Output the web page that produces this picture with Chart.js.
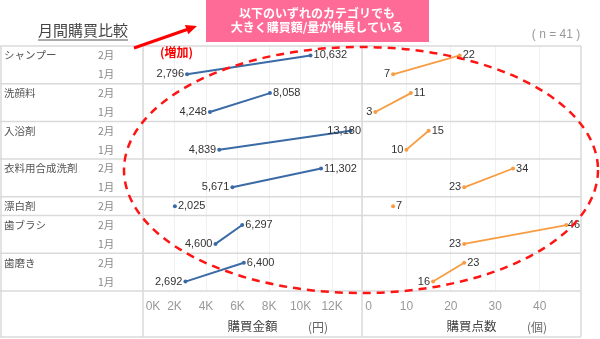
<!DOCTYPE html>
<html>
<head>
<meta charset="utf-8">
<script src="https://cdn.jsdelivr.net/npm/chart.js@4.4.0/dist/chart.umd.min.js"></script>
<style>
  html, body { margin: 0; padding: 0; background: #fff; overflow: hidden; }
  canvas { display: block; }
</style>
</head>
<body>
<canvas id="chart" width="600" height="339"></canvas>
<script>
const categories = ['シャンプー', '洗顔料', '入浴剤', '衣料用合成洗剤', '漂白剤', '歯ブラシ', '歯磨き'];
// null = no January row (漂白剤)
const amountJan = [2796, 4248, 4839, 5671, null, 4600, 2692];
const amountFeb = [10632, 8058, 13180, 11302, 2025, 6297, 6400];
const countJan = [7, 3, 10, 23, null, 23, 16];
const countFeb = [22, 11, 15, 34, 7, 46, 23];
const amountTicks = [0, 2000, 4000, 6000, 8000, 10000, 12000];
const countTicks = [0, 10, 20, 30, 40];

const JP = "'Noto Sans CJK JP', sans-serif";
const NUM = "'Liberation Sans', 'Noto Sans CJK JP', sans-serif";
const BLUE = '#3b6ba6';
const ORANGE = '#f89c42';

// one row per month, 2月 above 1月
const rowKeys = [];
categories.forEach((cat, i) => {
  rowKeys.push(cat + '|2月');
  if (amountJan[i] != null) rowKeys.push(cat + '|1月');
});

const datasets = [];
categories.forEach((cat, i) => {
  const a = [], c = [];
  if (amountJan[i] != null) {
    a.push({ x: amountJan[i], y: cat + '|1月', m: '1月' });
    c.push({ x: countJan[i], y: cat + '|1月', m: '1月' });
  }
  a.push({ x: amountFeb[i], y: cat + '|2月', m: '2月' });
  c.push({ x: countFeb[i], y: cat + '|2月', m: '2月' });
  datasets.push({ label: cat, data: a, xAxisID: 'xa', yAxisID: 'y', borderColor: BLUE, backgroundColor: BLUE, borderWidth: 2 });
  datasets.push({ label: cat, data: c, xAxisID: 'xc', yAxisID: 'y', borderColor: ORANGE, backgroundColor: ORANGE, borderWidth: 1.8 });
});

// table frame + row headers
const tablePlugin = {
  id: 'table',
  beforeDatasetsDraw(chart) {
    const { ctx, chartArea: a, scales } = chart;
    const y = scales.y;
    const band = (a.bottom - a.top) / rowKeys.length;
    const bottom = chart.height - 2;
    ctx.save();
    ctx.strokeStyle = '#dadada';
    ctx.lineWidth = 1.5;
    const hline = yy => { ctx.beginPath(); ctx.moveTo(0, yy); ctx.lineTo(a.right, yy); ctx.stroke(); };
    const vline = xx => { ctx.beginPath(); ctx.moveTo(xx, a.top); ctx.lineTo(xx, bottom); ctx.stroke(); };
    hline(a.top); hline(bottom);
    categories.forEach(cat => {
      const last = rowKeys.filter(k => k.startsWith(cat + '|')).pop();
      hline(y.getPixelForValue(rowKeys.indexOf(last)) + band / 2);
    });
    vline(1); vline(a.left); vline(scales.xa.right); vline(a.right);

    ctx.textBaseline = 'middle';
    ctx.font = '10.5px ' + JP;
    rowKeys.forEach((k, i) => {
      const [cat, m] = k.split('|');
      const py = y.getPixelForValue(i);
      if (m === '2月') { ctx.fillStyle = '#555'; ctx.fillText(cat, 4, py); }
      ctx.fillStyle = '#888';
      ctx.fillText(m, 98, py);
    });
    ctx.restore();
  },
  afterDatasetsDraw(chart) {
    const { ctx } = chart;
    ctx.save();
    ctx.font = '11px ' + NUM;
    ctx.fillStyle = '#333';
    ctx.textBaseline = 'middle';
    chart.data.datasets.forEach((ds, di) => {
      const meta = chart.getDatasetMeta(di);
      const scale = chart.scales[ds.xAxisID];
      meta.data.forEach((pt, pi) => {
        const d = ds.data[pi];
        const txt = ds.xAxisID === 'xa' ? d.x.toLocaleString('en-US') : String(d.x);
        const w = ctx.measureText(txt).width;
        let x = pt.x + 3, align = 'left';
        if (d.m === '1月') { x = pt.x - 3; align = 'right'; }
        else if (x + w > scale.right) { x = scale.right - 1; align = 'right'; }
        ctx.textAlign = align;
        ctx.fillText(txt, x, pt.y);
      });
    });
    ctx.restore();
  },
  afterDraw(chart) {
    const { ctx } = chart;
    ctx.save();
    // heading
    ctx.fillStyle = '#444';
    ctx.font = '15px ' + JP;
    ctx.textBaseline = 'middle';
    ctx.textAlign = 'left';
    const head = '月間購買比較';
    ctx.fillText(head, 38, 30);
    ctx.strokeStyle = '#555';
    ctx.lineWidth = 1;
    ctx.beginPath(); ctx.moveTo(38, 40); ctx.lineTo(38 + ctx.measureText(head).width, 40); ctx.stroke();

    // callout box
    ctx.fillStyle = '#ff6b97';
    ctx.fillRect(206, 0, 223, 42);
    ctx.fillStyle = '#fff';
    ctx.font = 'bold 12px ' + JP;
    ctx.textAlign = 'center';
    ctx.fillText('以下のいずれのカテゴリでも', 317, 13);
    ctx.fillText('大きく購買額/量が伸長している', 317, 27);

    // arrow
    ctx.strokeStyle = '#ff0000';
    ctx.fillStyle = '#ff0000';
    ctx.lineWidth = 3;
    const x0 = 134, y0 = 48, x1 = 197, y1 = 26;
    const ang = Math.atan2(y1 - y0, x1 - x0);
    ctx.beginPath(); ctx.moveTo(x0, y0); ctx.lineTo(x1 - 9 * Math.cos(ang), y1 - 9 * Math.sin(ang)); ctx.stroke();
    ctx.beginPath();
    ctx.moveTo(x1, y1);
    ctx.lineTo(x1 - 11 * Math.cos(ang) + 5 * Math.sin(ang), y1 - 11 * Math.sin(ang) - 5 * Math.cos(ang));
    ctx.lineTo(x1 - 11 * Math.cos(ang) - 5 * Math.sin(ang), y1 - 11 * Math.sin(ang) + 5 * Math.cos(ang));
    ctx.closePath(); ctx.fill();

    ctx.font = 'bold 12px ' + JP;
    ctx.textAlign = 'left';
    ctx.fillText('(増加)', 160, 52);

    ctx.fillStyle = '#999';
    ctx.font = '12px ' + NUM;
    ctx.textAlign = 'center';
    ctx.fillText('( n = 41 )', 556, 35);

    ctx.fillStyle = '#666';
    ctx.font = '12px ' + JP;
    ctx.fillText('(円)', 318, 327);
    ctx.fillText('(個)', 537, 327);

    // dashed ring
    ctx.strokeStyle = '#ff1414';
    ctx.lineWidth = 2.5;
    ctx.setLineDash([8, 6]);
    ctx.beginPath();
    ctx.ellipse(361, 170, 237, 123, 0, 0, Math.PI * 2);
    ctx.stroke();
    ctx.restore();
  }
};

// first label sits against the panel edge, so nudge it right with figure spaces
const edgePad = (label, n) => '\u2007'.repeat(n) + label;

const xAxis = (ticks, fmt, max, title) => ({
  type: 'linear',
  position: 'bottom',
  stack: 'panels',
  stackWeight: 1,
  min: 0,
  max: max,
  afterBuildTicks: s => { s.ticks = ticks.map(v => ({ value: v })); },
  afterFit: s => { s.height = 46; },
  ticks: { callback: fmt, color: '#999', font: { size: 12, family: NUM }, padding: 8, maxRotation: 0, autoSkip: false, includeBounds: false },
  grid: { color: '#f0f0f0', drawTicks: false },
  border: { display: false },
  title: { display: true, text: title, color: '#444', font: { size: 12.5, family: JP }, padding: { top: 0, bottom: 3 } }
});

new Chart(document.getElementById('chart'), {
  type: 'scatter',
  data: { datasets: datasets.map(d => Object.assign(d, { showLine: true, pointRadius: 2, pointHoverRadius: 2, pointBorderWidth: 0 })) },
  options: {
    responsive: false,
    animation: false,
    events: [],
    layout: { padding: { left: 143, right: 19, top: 46, bottom: 2 } },
    plugins: { legend: { display: false }, tooltip: { enabled: false } },
    scales: {
      xa: xAxis(amountTicks, v => v === 0 ? edgePad('0K', 3) : (v / 1000) + 'K', 13900, '購買金額'),
      xc: xAxis(countTicks, v => v === 0 ? edgePad('0', 2) : String(v), 49.3, '購買点数'),
      y: { type: 'category', labels: rowKeys, offset: true, display: false }
    }
  },
  plugins: [tablePlugin]
});
</script>
</body>
</html>
